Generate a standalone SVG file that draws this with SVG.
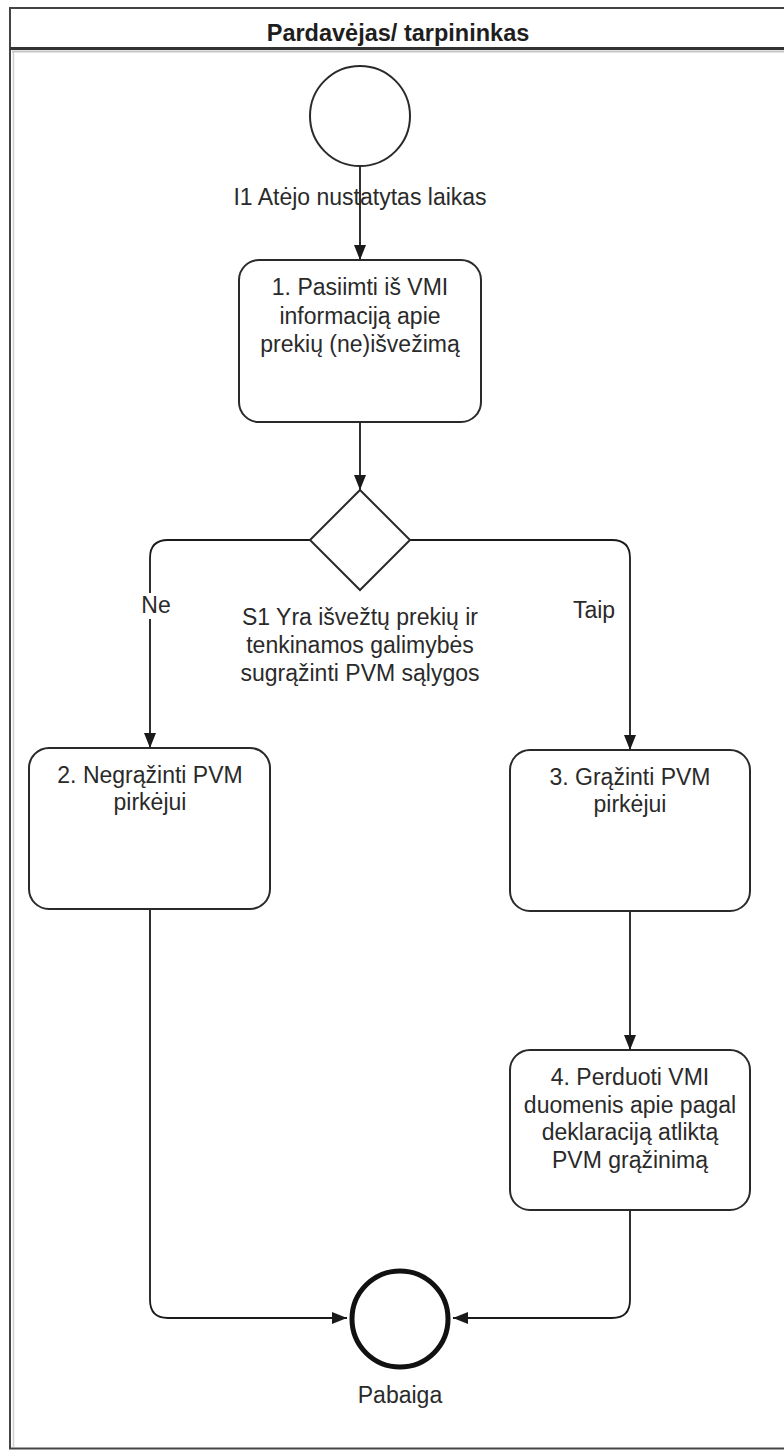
<svg xmlns="http://www.w3.org/2000/svg" width="784" height="1450" viewBox="0 0 784 1450">
<style>
  .t { font-family: "Liberation Sans", Arial, sans-serif; font-size: 23px; fill: #2a2a2a; text-anchor: middle; }
  .hdr { font-weight: bold; font-size: 23.5px; fill: #1e1e1e; }
  .box { fill: #ffffff; stroke: #2a2a2a; stroke-width: 2; }
  .conn { fill: none; stroke: #1a1a1a; stroke-width: 1.8; }
</style>
<defs>
  <marker id="arr" markerUnits="userSpaceOnUse" markerWidth="16" markerHeight="12" refX="15" refY="6" orient="auto">
    <path d="M0,0 L15,6 L0,12 Z" fill="#1a1a1a"/>
  </marker>
</defs>
<rect x="0" y="0" width="784" height="1450" fill="#ffffff"/>
<g id="pool">
  <rect x="10" y="8" width="790" height="1440.5" fill="#ffffff" stroke="#444" stroke-width="2"/>
  <line x1="10" y1="48.5" x2="800" y2="48.5" stroke="#333" stroke-width="3"/>
  <line x1="12" y1="51.5" x2="800" y2="51.5" stroke="#c4c4c4" stroke-width="2"/>
  <line x1="13.5" y1="52" x2="13.5" y2="1447" stroke="#cfcfcf" stroke-width="1.5"/>
  <text class="t hdr" x="398" y="41">Pardavėjas/ tarpininkas</text>
</g>
<g id="connectors">
  <path class="conn" d="M360,166 V260" marker-end="url(#arr)"/>
  <path class="conn" d="M360,422 V490" marker-end="url(#arr)"/>
  <path class="conn" d="M310,540 H168 Q150,540 150,558 V748" marker-end="url(#arr)"/>
  <path class="conn" d="M410,540 H612 Q630,540 630,558 V750" marker-end="url(#arr)"/>
  <path class="conn" d="M630,911 V1050" marker-end="url(#arr)"/>
  <path class="conn" d="M150,909 V1300 Q150,1318 168,1318 H347" marker-end="url(#arr)"/>
  <path class="conn" d="M630,1210 V1300 Q630,1318 612,1318 H453" marker-end="url(#arr)"/>
  <rect x="140" y="593" width="32" height="26" fill="#ffffff"/>
  <text class="t" x="156" y="613">Ne</text>
  <text class="t" x="594" y="618">Taip</text>
</g>
<g id="start">
  <circle cx="360" cy="116" r="50" fill="#ffffff" stroke="#2a2a2a" stroke-width="2"/>
  <text class="t" x="360" y="205">I1 Atėjo nustatytas laikas</text>
</g>
<g id="task1">
  <rect class="box" x="239" y="260" width="242" height="162" rx="20" ry="20"/>
  <text class="t" x="360" y="295">1. Pasiimti iš VMI</text>
  <text class="t" x="360" y="324">informaciją apie</text>
  <text class="t" x="360" y="352">prekių (ne)išvežimą</text>
</g>
<g id="gateway">
  <path d="M360,490 L410,540 L360,590 L310,540 Z" fill="#ffffff" stroke="#2a2a2a" stroke-width="2"/>
  <text class="t" x="360" y="625">S1 Yra išvežtų prekių  ir</text>
  <text class="t" x="360" y="653">tenkinamos galimybės</text>
  <text class="t" x="360" y="681">sugrąžinti PVM sąlygos</text>
</g>
<g id="task2">
  <rect class="box" x="29" y="748" width="241" height="161" rx="20" ry="20"/>
  <text class="t" x="150" y="783">2. Negrąžinti PVM</text>
  <text class="t" x="150" y="810">pirkėjui</text>
</g>
<g id="task3">
  <rect class="box" x="510" y="750" width="240" height="161" rx="20" ry="20"/>
  <text class="t" x="630" y="785">3. Grąžinti PVM</text>
  <text class="t" x="630" y="812">pirkėjui</text>
</g>
<g id="task4">
  <rect class="box" x="510" y="1050" width="240" height="160" rx="20" ry="20"/>
  <text class="t" x="630" y="1085">4. Perduoti VMI</text>
  <text class="t" x="630" y="1113">duomenis apie pagal</text>
  <text class="t" x="630" y="1140">deklaraciją atliktą</text>
  <text class="t" x="630" y="1168">PVM grąžinimą</text>
</g>
<g id="end">
  <circle cx="400" cy="1319" r="48" fill="#ffffff" stroke="#111" stroke-width="5"/>
  <text class="t" x="400" y="1403">Pabaiga</text>
</g>
</svg>
